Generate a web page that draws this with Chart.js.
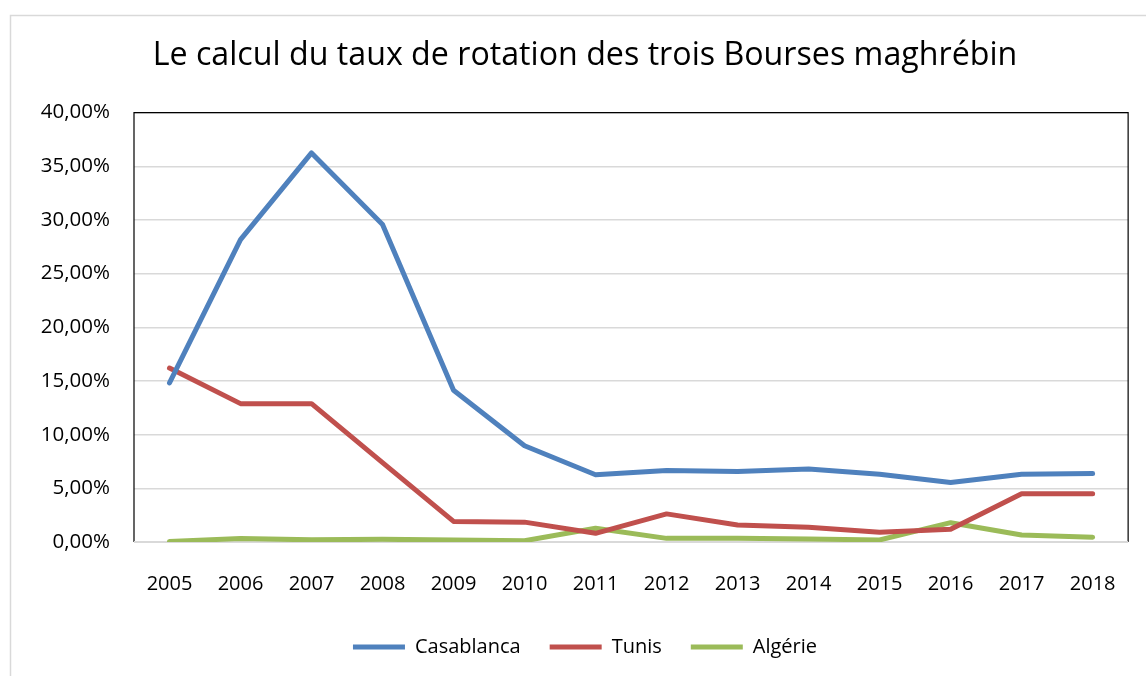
<!DOCTYPE html>
<html>
<head>
<meta charset="utf-8">
<script src="https://cdn.jsdelivr.net/npm/chart.js@4"></script>
<style>
  body { margin: 0; background: #fff; }
  #wrap { width: 1146px; height: 676px; }
</style>
</head>
<body>
<div id="wrap"><canvas id="lineChart" width="1146" height="676"></canvas></div>
<script>
const years = ['2005','2006','2007','2008','2009','2010','2011','2012','2013','2014','2015','2016','2017','2018'];
const casablanca = [0.1482, 0.2817, 0.3625, 0.2957, 0.1413, 0.0897, 0.0626, 0.0667, 0.0657, 0.0679, 0.0632, 0.0555, 0.0632, 0.0639];
const tunis = [0.1620, 0.1289, 0.1289, 0.0739, 0.0192, 0.0185, 0.0081, 0.0262, 0.0159, 0.0137, 0.0090, 0.0118, 0.0449, 0.0449];
const algerie = [0.0005, 0.0033, 0.0020, 0.0025, 0.0018, 0.0012, 0.0128, 0.0034, 0.0034, 0.0028, 0.0019, 0.0180, 0.0065, 0.0044];
const yMin = 0, yMax = 0.4, yStep = 0.05;

const fontFam = '"Open Sans", Lato, sans-serif';

// outer light frame + black plot border (bottom stays grey like the axis)
const framePlugin = {
  id: 'frame',
  beforeDraw(chart) {
    const ctx = chart.ctx;
    ctx.save();
    ctx.strokeStyle = '#d9d9d9';
    ctx.lineWidth = 1.5;
    ctx.beginPath();
    ctx.moveTo(10.5, 680);
    ctx.lineTo(10.5, 15.5);
    ctx.lineTo(1150, 15.5);
    ctx.stroke();
    ctx.restore();
  },
  beforeDatasetsDraw(chart) {
    const a = chart.chartArea;
    const ctx = chart.ctx;
    ctx.save();
    ctx.strokeStyle = '#000';
    ctx.lineWidth = 1.2;
    ctx.beginPath();
    ctx.moveTo(a.left, a.bottom);
    ctx.lineTo(a.left, a.top);
    ctx.lineTo(a.right, a.top);
    ctx.lineTo(a.right, a.bottom);
    ctx.stroke();
    ctx.strokeStyle = '#d9d9d9';
    ctx.lineWidth = 2;
    ctx.beginPath();
    ctx.moveTo(a.left, a.bottom);
    ctx.lineTo(a.right, a.bottom);
    ctx.stroke();
    ctx.restore();
  }
};

function lineSet(label, data, color) {
  return {
    label: label,
    data: data,
    borderColor: color,
    backgroundColor: color,
    borderWidth: 5,
    pointRadius: 0,
    tension: 0,
    borderCapStyle: 'round',
    borderJoinStyle: 'round'
  };
}

new Chart(document.getElementById('lineChart').getContext('2d'), {
  type: 'line',
  data: {
    labels: years,
    datasets: [
      lineSet('Casablanca', casablanca, '#4f81bd'),
      lineSet('Tunis', tunis, '#c0504d'),
      lineSet('Algérie', algerie, '#9bbb59')
    ]
  },
  options: {
    responsive: false,
    animation: false,
    layout: { padding: { left: 38, right: 14, top: 0, bottom: 9 } },
    plugins: {
      title: {
        display: true,
        text: 'Le calcul du taux de rotation des trois Bourses maghrébin',
        color: '#000',
        font: { family: fontFam, size: 32.2, weight: 'normal', lineHeight: 1.2 },
        padding: { top: 37, bottom: 37 }
      },
      legend: {
        position: 'bottom',
        labels: {
          color: '#000',
          font: { family: fontFam, size: 20 },
          usePointStyle: true,
          pointStyle: 'line',
          pointStyleWidth: 52,
          padding: 29
        }
      },
      tooltip: { enabled: false }
    },
    scales: {
      x: {
        offset: true,
        grid: { display: false, drawTicks: false },
        border: { display: false },
        ticks: { color: '#000', font: { family: fontFam, size: 20 }, padding: 30, maxRotation: 0 },
        afterFit(scale) { scale.height = 66; }
      },
      y: {
        min: yMin,
        max: yMax,
        grid: { color: '#d9d9d9', lineWidth: 1.5, drawTicks: false },
        border: { display: false },
        ticks: {
          stepSize: yStep,
          color: '#000',
          font: { family: fontFam, size: 20.5 },
          padding: 24,
          callback: v => (v * 100).toFixed(2).replace('.', ',') + '%'
        },
        afterFit(scale) { scale.width = 96; }
      }
    }
  },
  plugins: [framePlugin]
});
</script>
</body>
</html>
